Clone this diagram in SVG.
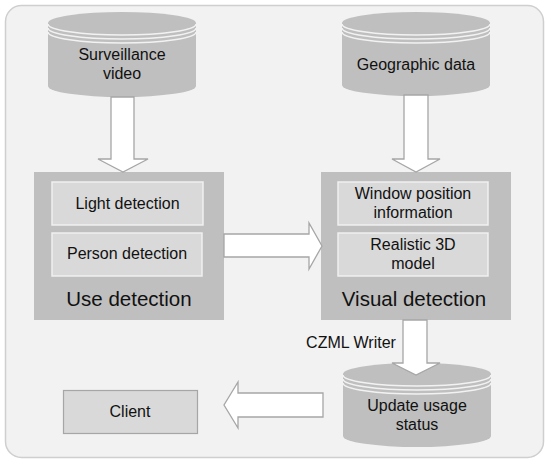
<svg xmlns="http://www.w3.org/2000/svg" width="550" height="467" viewBox="0 0 550 467">
<style>
text{font-family:"Liberation Sans",Arial,sans-serif;fill:#111;text-anchor:middle}
.cyl{fill:#bfbfbf}
.cl{fill:none;stroke:#f2f2f2;stroke-width:1.6}
.big{fill:#bfbfbf}
.inner{fill:#d9d9d9;stroke:#f0f0f0;stroke-width:1.5}
.arr{fill:#ffffff;stroke:#a6a6a6;stroke-width:1.3}
.t15{font-size:16px}
.t14{font-size:16px}
.t20{font-size:20.5px}
</style>
<rect x="5.5" y="5.5" width="538" height="452" rx="16" fill="#f2f2f2" stroke="#cfcfcf" stroke-width="1.5"/>

<g id="surveillance">
<path class="cyl" d="M48,23 A74,11 0 0 1 196,23 V86 A74,11 0 0 1 48,86 Z"/>
<path class="cl" d="M48,24 A74,11 0 0 0 196,24"/>
<path class="cl" d="M48,28 A74,11 0 0 0 196,28"/>
<path class="cl" d="M48,32 A74,11 0 0 0 196,32"/>
<text class="t15" x="122" y="60">Surveillance</text>
<text class="t15" x="122" y="79">video</text>
</g>

<g id="geographic">
<path class="cyl" d="M342,23 A74,11 0 0 1 490,23 V85 A74,11 0 0 1 342,85 Z"/>
<path class="cl" d="M342,24 A74,11 0 0 0 490,24"/>
<path class="cl" d="M342,28 A74,11 0 0 0 490,28"/>
<path class="cl" d="M342,32 A74,11 0 0 0 490,32"/>
<text class="t15" x="416" y="70">Geographic data</text>
</g>

<g id="use-detection">
<rect class="big" x="34" y="172" width="190" height="148"/>
<rect class="inner" x="52" y="182" width="151" height="43"/>
<text class="t14" x="127.5" y="209">Light detection</text>
<rect class="inner" x="52" y="233" width="150" height="43"/>
<text class="t14" x="127" y="259">Person detection</text>
<text class="t20" x="129" y="306">Use detection</text>
</g>

<g id="visual-detection">
<rect class="big" x="321" y="172" width="190" height="148"/>
<rect class="inner" x="338" y="182" width="150" height="43"/>
<text class="t14" x="413" y="199">Window position</text>
<text class="t14" x="413" y="218">information</text>
<rect class="inner" x="338" y="233" width="150" height="43"/>
<text class="t14" x="413" y="250">Realistic 3D</text>
<text class="t14" x="413" y="269">model</text>
<text class="t20" x="414" y="306">Visual detection</text>
</g>

<g id="update-usage">
<path class="cyl" d="M343,374 A74,11 0 0 1 491,374 V436 A74,11 0 0 1 343,436 Z"/>
<path class="cl" d="M343,375 A74,11 0 0 0 491,375"/>
<path class="cl" d="M343,379 A74,11 0 0 0 491,379"/>
<path class="cl" d="M343,383 A74,11 0 0 0 491,383"/>
<text class="t15" x="417" y="411">Update usage</text>
<text class="t15" x="417" y="430">status</text>
</g>

<g id="client">
<rect x="63.5" y="390.5" width="134" height="43" fill="#d9d9d9" stroke="#a6a6a6" stroke-width="1.2"/>
<text class="t15" x="130" y="417">Client</text>
</g>

<g id="connectors">
<path class="arr" d="M111,97 H134 V159 H148 L123,172 L98,159 H111 Z"/>
<path class="arr" d="M404,95 H428 V159 H440 L416,172 L392,159 H404 Z"/>
<path class="arr" d="M224,234 H309 V223 L322,246 L309,269 V257 H224 Z"/>
<path class="arr" d="M403,320 H427 V363 H440 L416,375 L392,363 H403 Z"/>
<path class="arr" d="M323,393 H238 V382 L224,405 L238,428 V417 H323 Z"/>
<text class="t15" x="351" y="348">CZML Writer</text>
</g>
</svg>
